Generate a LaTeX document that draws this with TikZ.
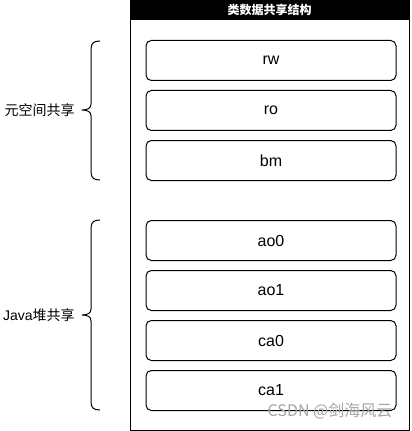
\documentclass[tikz,border=0pt]{standalone}
\usepackage{fontspec}
\setmainfont{Liberation Sans}
\newfontfamily\cjk{Noto Sans CJK SC}
\usetikzlibrary{positioning}

\begin{document}
\begin{tikzpicture}[x=0.75pt, y=-0.75pt]
        % ================= 样式 =================
        \tikzset{
            % 区块:白底黑边圆角矩形
            block/.style={rectangle, rounded corners=4pt, draw=black, line width=0.75pt, fill=white,
                minimum width=187.5pt, minimum height=30pt, inner sep=0pt, outer sep=0pt,
                font=\fontsize{12}{14}\selectfont},
            % 大括号
            bracket/.style={line width=0.75pt, black},
            % 左侧说明文字
            side/.style={anchor=east, inner sep=0pt, font=\fontsize{10.5}{12}\selectfont}
        }
        \useasboundingbox (0,0) rectangle (411,431);

        % ================= 外框与标题 =================
        \draw[line width=0.75pt, fill=white] (130,0) rectangle (409,430);
        \fill[black] (130,0) rectangle (409,20);
        \node[text=white, font=\cjk\bfseries\fontsize{9}{10}\selectfont] (title) at (269.5,10) {类数据共享结构};

        % ================= 元空间部分 =================
        \node[block] (rw) at (271,60.5) {rw};
        \node[block, below=7.5pt of rw] (ro) {ro};
        \node[block, below=7.5pt of ro] (bm) {bm};

        % ================= Java 堆部分 =================
        \node[block, below=30pt of bm] (ao0) {ao0};
        \node[block, below=7.5pt of ao0] (ao1) {ao1};
        \node[block, below=7.5pt of ao1] (ca0) {ca0};
        \node[block, below=7.5pt of ca0] (ca1) {ca1};

        % ================= 大括号 =================
        \draw[bracket] (100,41) .. controls (94,41) and (91,43) .. (91,49) -- (91,104)
            .. controls (91,108) and (88,110) .. (82,110)
            .. controls (88,110) and (91,112) .. (91,116) -- (91,172)
            .. controls (91,178) and (94,180) .. (100,180);
        \draw[bracket] (100,220) .. controls (94,220) and (91,222) .. (91,228) -- (91,309)
            .. controls (91,313) and (88,315) .. (82,315)
            .. controls (88,315) and (91,317) .. (91,321) -- (91,402)
            .. controls (91,408) and (94,410) .. (100,410);

        \node[side] (meta) at (75,110) {\cjk 元空间共享};
        \node[side] (heap) at (75,315) {Java{\cjk 堆共享}};

        % 水印
        \node[text=black!35, font=\cjk\fontsize{12}{14}\selectfont] (mark) at (330,411) {CSDN @剑海风云};
\end{tikzpicture}
\end{document}
